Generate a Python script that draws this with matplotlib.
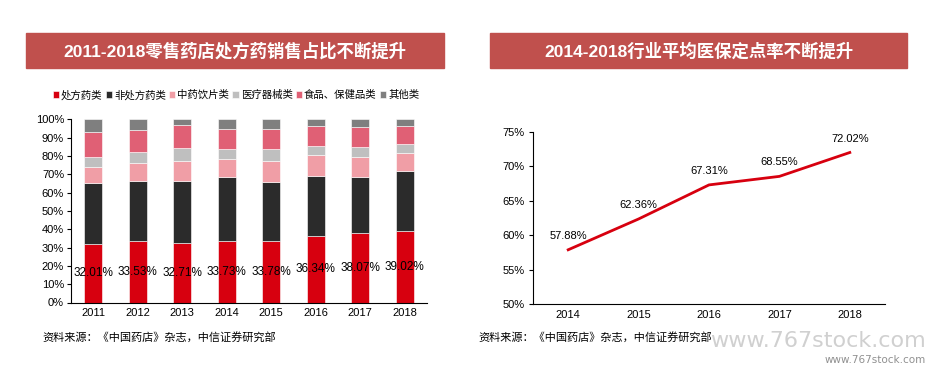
import matplotlib
matplotlib.use("Agg")
import matplotlib.pyplot as plt
from matplotlib.patches import Rectangle
import numpy as np

plt.rcParams['font.family'] = ['Liberation Sans', 'Noto Sans CJK SC', 'DejaVu Sans']

# ---- data ----
years_left = ['2011', '2012', '2013', '2014', '2015', '2016', '2017', '2018']
series_names = ['处方药类', '非处方药类', '中药饮片类', '医疗器械类', '食品、保健品类', '其他类']
rx = [32.01, 33.53, 32.71, 33.73, 33.78, 36.34, 38.07, 39.02]
otc = [33.2, 32.8, 33.6, 34.8, 32.1, 32.9, 30.6, 32.9]
tcm = [8.8, 9.7, 10.7, 9.6, 11.1, 11.1, 10.9, 9.5]
device = [5.6, 6.1, 7.3, 5.7, 6.8, 5.3, 5.3, 4.9]
food = [13.3, 11.9, 12.4, 10.9, 10.9, 10.8, 10.7, 10.1]
other = [7.1, 6.0, 3.3, 5.3, 5.3, 3.6, 4.4, 3.6]

years_right = ['2014', '2015', '2016', '2017', '2018']
rate = [57.88, 62.36, 67.31, 68.55, 72.02]

title_left = '2011-2018零售药店处方药销售占比不断提升'
title_right = '2014-2018行业平均医保定点率不断提升'
source = '资料来源：《中国药店》杂志，中信证券研究部'

colors = ['#d7000f', '#2b2b2b', '#f09ea6', '#bfbfbf', '#e06075', '#7f7f7f']

W, H = 928, 369
fig = plt.figure(figsize=(W / 100, H / 100), dpi=100)

def fx(px):
    return px / W

def fy(py):
    return 1 - py / H

# title boxes
for (x0, x1, t) in [(26, 444, title_left), (490, 907, title_right)]:
    fig.patches.append(Rectangle((fx(x0), fy(68)), fx(x1 - x0), (68 - 33) / H,
                                 transform=fig.transFigure, color='#c0504d', zorder=0))
    fig.text(fx((x0 + x1) / 2), fy(50.5), t, ha='center', va='center', color='white',
             fontsize=12.5, fontweight='bold',
             family=['Liberation Sans', 'Noto Sans CJK SC'])

# ---- left chart ----
axL = fig.add_axes([fx(71), fy(302.5), fx(427 - 71), (302.5 - 119.3) / H])
x = np.arange(len(years_left))
bottom = np.zeros(len(x))
data = [rx, otc, tcm, device, food, other]
handles = []
for vals, c, name in zip(data, colors, series_names):
    b = axL.bar(x, vals, bottom=bottom, width=0.4, color=c, edgecolor='white', linewidth=0.4, label=name)
    handles.append(b)
    bottom += np.array(vals)
for xi, v in zip(x, rx):
    axL.text(xi, v / 2, f'{v:.2f}%', ha='center', va='center', fontsize=8.5, color='black')
axL.set_xlim(-0.5, len(x) - 0.5)
axL.set_ylim(0, 100)
axL.set_yticks(np.arange(0, 101, 10))
axL.set_yticklabels([f'{v}%' for v in range(0, 101, 10)], fontsize=8)
axL.set_xticks(x)
axL.set_xticklabels(years_left, fontsize=8)
axL.tick_params(axis='x', length=0, pad=4)
axL.tick_params(axis='y', length=3, width=0.8, pad=2)
for s in ['top', 'right']:
    axL.spines[s].set_visible(False)
for s in ['left', 'bottom']:
    axL.spines[s].set_color('black')
    axL.spines[s].set_linewidth(0.8)

leg = fig.legend(handles=handles, labels=series_names, loc='center', bbox_to_anchor=(fx(236), fy(95)),
                 ncol=6, frameon=False, handlelength=0.6, handleheight=0.6,
                 handletextpad=0.2, columnspacing=0.3, prop={'family': ['Noto Sans CJK SC'], 'size': 7.5})

# ---- right chart ----
axR = fig.add_axes([fx(533), fy(304), fx(885 - 533), (304 - 132) / H])
xr = np.arange(len(years_right))
axR.plot(xr, rate, color='#d7000f', linewidth=2)
for xi, v in zip(xr, rate):
    axR.text(xi, v + 1.3, f'{v:.2f}%', ha='center', va='bottom', fontsize=8, color='black')
axR.set_xlim(-0.5, len(xr) - 0.5)
axR.set_ylim(50, 75)
axR.set_yticks(np.arange(50, 76, 5))
axR.set_yticklabels([f'{v}%' for v in range(50, 76, 5)], fontsize=8)
axR.set_xticks(xr)
axR.set_xticklabels(years_right, fontsize=8)
axR.tick_params(axis='x', length=0, pad=4)
axR.tick_params(axis='y', length=3, width=0.8, pad=3)
for s in ['top', 'right']:
    axR.spines[s].set_visible(False)
for s in ['left', 'bottom']:
    axR.spines[s].set_color('black')
    axR.spines[s].set_linewidth(0.8)

# sources
for x0 in [42, 478]:
    fig.text(fx(x0), fy(337), source, ha='left', va='center', fontsize=8,
             family=['Noto Sans CJK SC'], color='black')

# watermark
fig.text(fx(926), fy(341), 'www.767stock.com', ha='right', va='center', fontsize=16,
         color='#d0d0d0', family=['DejaVu Sans'])
fig.text(fx(926), fy(360), 'www.767stock.com', ha='right', va='center', fontsize=7.5,
         color='#909090', family=['DejaVu Sans'])

fig.savefig('out.png', dpi=100)
